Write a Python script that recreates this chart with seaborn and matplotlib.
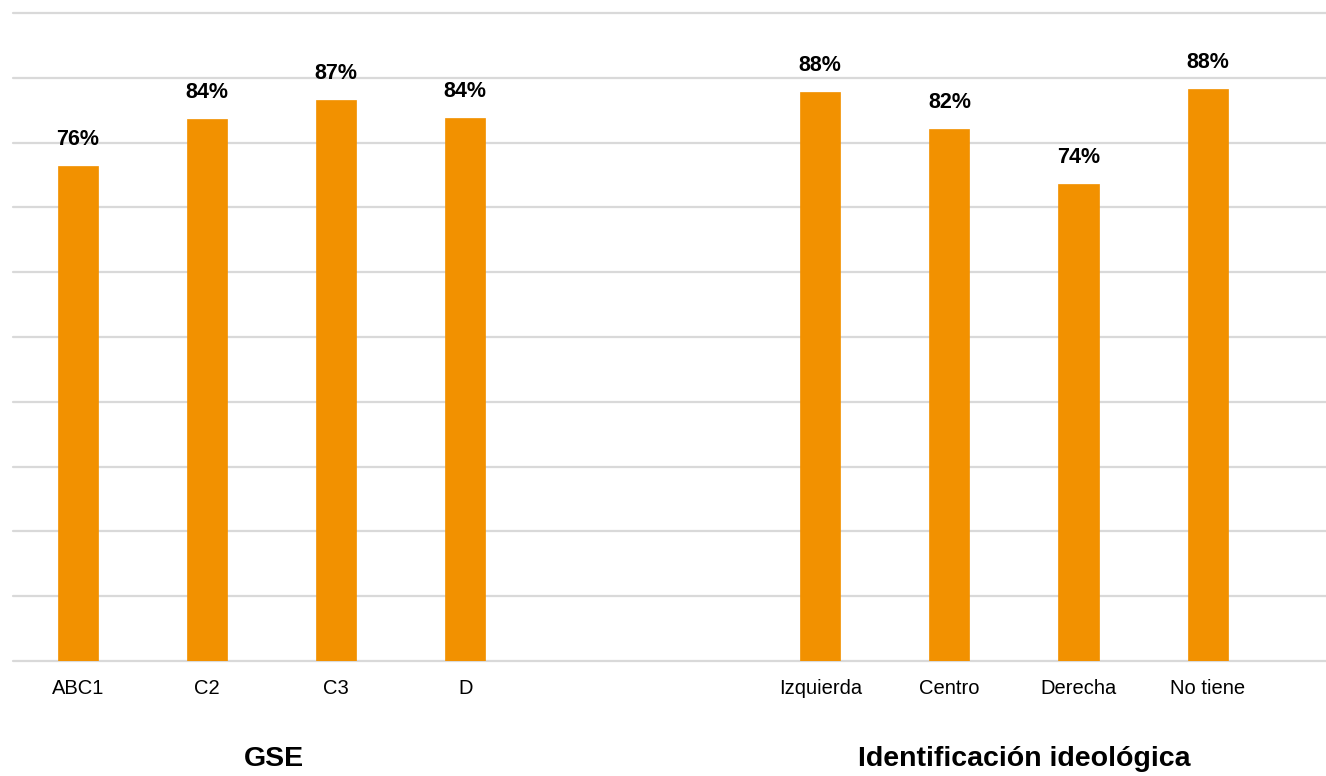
import matplotlib
matplotlib.use("Agg")
import matplotlib.pyplot as plt
import matplotlib.transforms as mtransforms
import seaborn as sns
import pandas as pd
import numpy as np

# ---- data ----
gse_categories = ["ABC1", "C2", "C3", "D"]
gse_values = [76.4, 83.6, 86.6, 83.8]
ideo_categories = ["Izquierda", "Centro", "Derecha", "No tiene"]
ideo_values = [87.8, 82.1, 73.6, 88.3]
group_titles = ["GSE", "Identificación ideológica"]

# ---- layout constants ----
GROUP_OFFSET = 5.75  # start of second group in slot units
BAR_COLOR = "#F29100"
GRID_COLOR = "#D9D9D9"

sns.set_theme(style="white")
plt.rcParams["font.family"] = ["Liberation Sans", "DejaVu Sans"]

cats = gse_categories + ideo_categories
vals = gse_values + ideo_values
pos = [i for i in range(len(gse_categories))] + [GROUP_OFFSET + i for i in range(len(ideo_categories))]
df = pd.DataFrame({"pos": pos, "value": vals, "cat": cats})

fig = plt.figure(figsize=(13.26, 7.76), dpi=100)
ax = fig.add_axes([13 / 1326, 115 / 776, 1 - 13 / 1326, (661 - 13) / 776])

sns.barplot(data=df, x="pos", y="value", native_scale=True, width=0.31,
            color=BAR_COLOR, saturation=1, ax=ax, errorbar=None, zorder=3,
            edgecolor=BAR_COLOR, linewidth=0.5)

ax.set_ylim(0, 100)
ax.set_xlim(-0.503, 9.667)
ax.set_yticks(np.arange(0, 101, 10))
ax.set_yticklabels([])
ax.yaxis.grid(True, color=GRID_COLOR, linewidth=1.6, zorder=0)
for gl in ax.get_ygridlines():
    gl.set_clip_on(False)
ax.xaxis.grid(False)
ax.set_axisbelow(True)
for s in ax.spines.values():
    s.set_visible(False)

ax.set_xticks(pos)
ax.set_xticklabels(cats, fontsize=14.5, color="#000000")
ax.tick_params(axis="x", length=0, pad=13)
ax.tick_params(axis="y", length=0)
ax.set_xlabel("")
ax.set_ylabel("")

for p, v in zip(pos, vals):
    ax.annotate(f"{v:.0f}%", xy=(p, v), xytext=(0, 11.5), textcoords="offset points",
                ha="center", va="bottom", fontsize=15.5, fontweight="bold", color="#000000")

trans = mtransforms.blended_transform_factory(ax.transData, fig.transFigure)
centers = [np.mean(pos[:4]) + 0.02, np.mean(pos[4:]) + 0.08]
for c, t in zip(centers, group_titles):
    ax.text(c, 17 / 776, t, transform=trans, ha="center", va="center",
            fontsize=20.5, fontweight="bold", color="#000000")

fig.savefig("out.png", dpi=100)
